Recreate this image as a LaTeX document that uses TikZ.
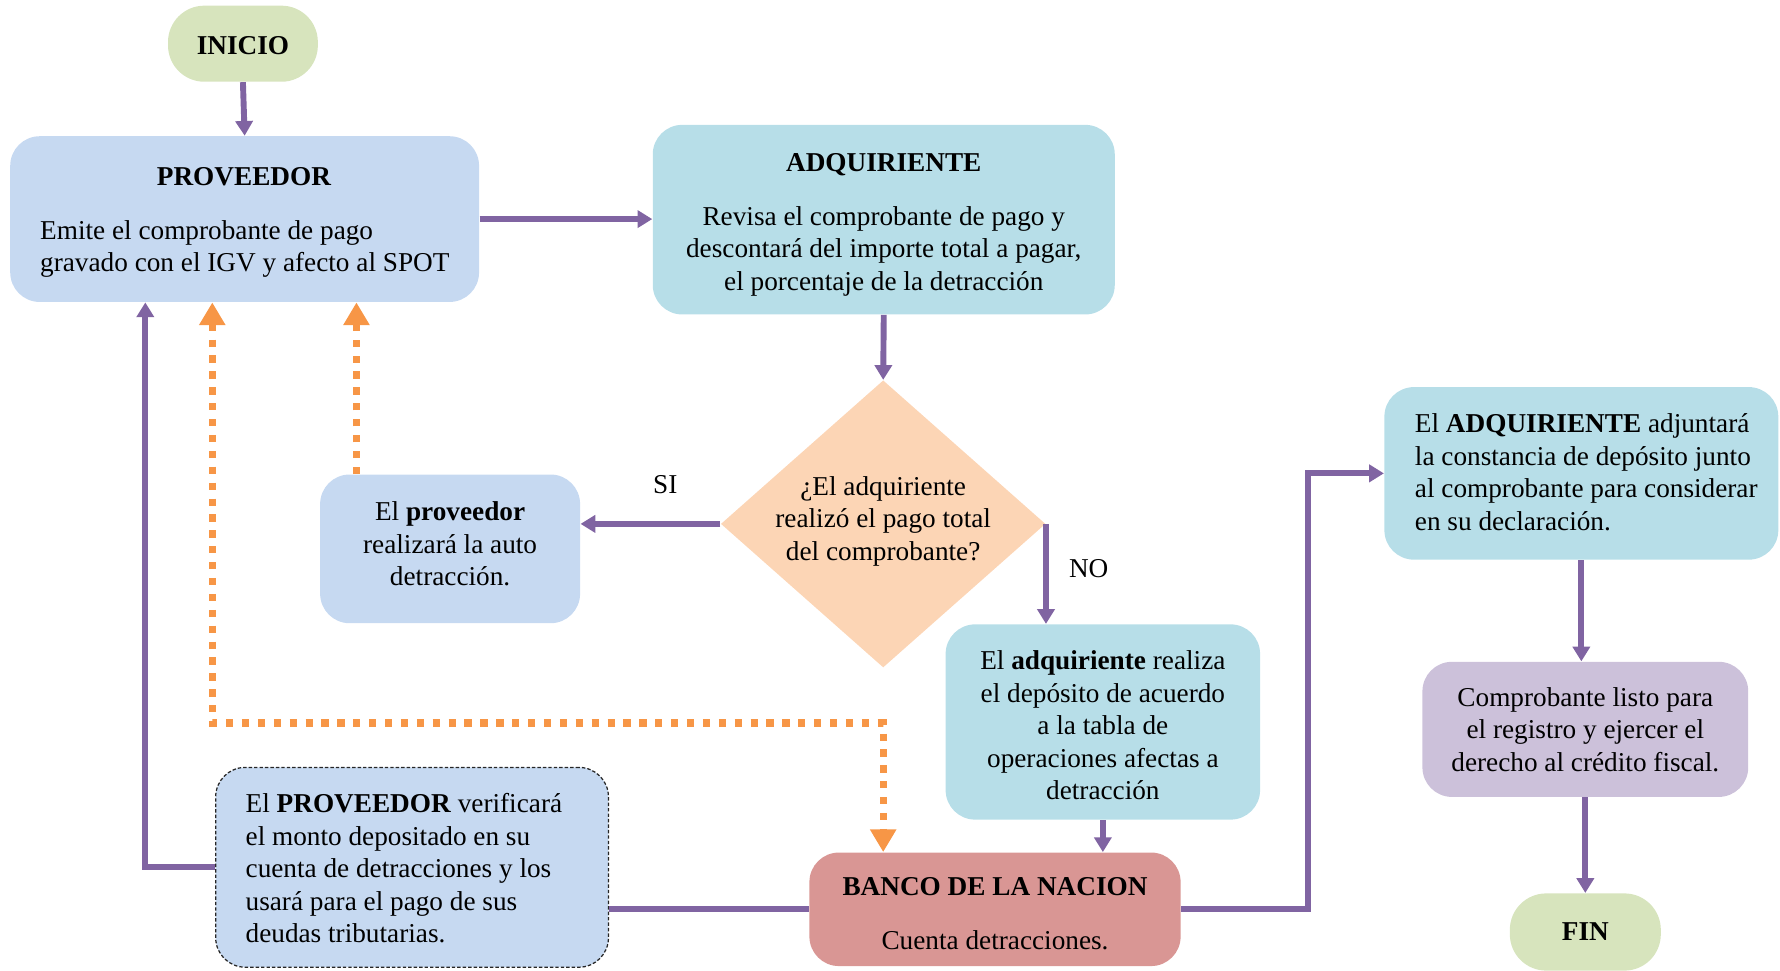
\documentclass[tikz,border=0pt]{standalone}
\usepackage{fontspec}
\setmainfont{Liberation Serif}
\usetikzlibrary{arrows.meta,shapes.geometric}
\definecolor{cgreen}{HTML}{D7E4BD}
\definecolor{cblue}{HTML}{C6D9F1}
\definecolor{caqua}{HTML}{B7DEE8}
\definecolor{cpeach}{HTML}{FCD5B5}
\definecolor{cred}{HTML}{D99694}
\definecolor{clav}{HTML}{CCC1DA}
\definecolor{cpurp}{HTML}{8064A2}
\definecolor{corange}{HTML}{F79646}
\begin{document}
\begin{tikzpicture}[x=0.5pt,y=-0.5pt,
  every node/.style={font=\fontsize{12}{14.3}\selectfont, inner sep=0pt},
  box/.style={rounded corners=13pt},
  term/.style={rounded corners=16pt, fill=cgreen},
  parr/.style={draw=cpurp, line width=2.6pt, -{Triangle[width=7.5pt,length=6.5pt]}},
  pline/.style={draw=cpurp, line width=2.6pt},
  oarr/.style={draw=corange, line width=3.2pt, dash pattern=on 3.2pt off 3.8pt, -{Triangle[width=11pt,length=10pt]}},
]
\useasboundingbox (0,0) rectangle (1568,854.5);

% nodes
\node[term, minimum width=66pt, minimum height=33.5pt] (inicio) at (214,38.5) {};
\node (iniciotxt) at (214,40) {\textbf{INICIO}};

\node[box, fill=cblue, minimum width=206.5pt, minimum height=73pt] (prov) at (215.5,193) {};
\node (provtit) at (215,156) {\textbf{PROVEEDOR}};
\node[anchor=west, align=left] (provtxt) at (35,219.5) {Emite el comprobante de pago\\gravado con el IGV y afecto al SPOT};

\node[box, fill=caqua, minimum width=203.5pt, minimum height=83.5pt] (adq) at (778.5,193.5) {};
\node[align=center] (adqtxt) at (778.5,198)
  {\textbf{ADQUIRIENTE}\\[9.5pt]Revisa el comprobante de pago y\\descontará del importe total a pagar,\\el porcentaje de la detracción};

\node[diamond, fill=cpeach, minimum width=143pt, minimum height=126.5pt] (dec) at (778,461.5) {};
\node[align=center] (dectxt) at (778,459) {¿El adquiriente\\realizó el pago total\\del comprobante?};

\node[box, fill=cblue, minimum width=114.5pt, minimum height=65.5pt] (provauto) at (396.5,483.5) {};
\node[align=center] (provautotxt) at (396.5,479) {El \textbf{proveedor}\\realizará la auto\\detracción.};

\node[box, fill=caqua, minimum width=138.5pt, minimum height=86pt] (adqdep) at (971.5,636) {};
\node[align=center] (adqdeptxt) at (971.5,639)
  {El \textbf{adquiriente} realiza\\el depósito de acuerdo\\a la tabla de\\operaciones afectas a\\detracción};

\node[box, fill=cred, minimum width=163.5pt, minimum height=50pt] (banco) at (876.5,801) {};
\node[align=center] (bancotxt) at (876.5,804.5)
  {\textbf{BANCO DE LA NACION}\\[9.5pt]Cuenta detracciones.};

\node[box, fill=cblue, draw=black!85, line width=0.55pt, dash pattern=on 1.5pt off 0.9pt, minimum width=173pt, minimum height=88pt] (verif) at (363,764) {};
\node[anchor=west, align=left] (veriftxt) at (216,765)
  {El \textbf{PROVEEDOR} verificará\\el monto depositado en su\\cuenta de detracciones y los\\usará para el pago de sus\\deudas tributarias.};

\node[box, fill=caqua, minimum width=173.5pt, minimum height=76pt] (adqdecl) at (1393,417) {};
\node[anchor=west, align=left] (adqdecltxt) at (1246,416)
  {El \textbf{ADQUIRIENTE} adjuntará\\la constancia de depósito junto\\al comprobante para considerar\\en su declaración.};

\node[box, fill=clav, minimum width=143.5pt, minimum height=59.5pt, align=center] (compr) at (1396.5,642.5)
  {Comprobante listo para\\el registro y ejercer el\\derecho al crédito fiscal.};

\node[term, minimum width=66.5pt, minimum height=34pt] (fin) at (1396.5,821) {\textbf{FIN}};

\node (si) at (586,427) {SI};
\node (no) at (959,501) {NO};

% purple connectors
\draw[parr] (inicio.south) -- (prov.north);
\draw[parr] (prov.east) -- (prov.east -| adq.west);
\draw[parr] (adq.south) -- (dec.north);
\draw[parr] (dec.west) -- (dec.west -| provauto.east);
\draw[parr] (dec.east) -- (dec.east |- adqdep.north);
\draw[parr] (adqdep.south) -- (adqdep.south |- banco.north);
\draw[parr] (banco.east) -- ++(112,0) |- (adqdecl.west);
\draw[parr] (adqdecl.south) -- (adqdecl.south |- compr.north);
\draw[parr] (compr.south) -- (compr.south |- fin.north);
\draw[pline] (banco.west) -- (banco.west -| verif.east);
\draw[parr] (verif.west) -| ([xshift=-43.75pt]prov.south);

% orange dashed connectors
\coordinate (ob1) at (187,637);
\coordinate (ob2) at (778,637);
\coordinate (ob3) at (314,418);
\draw[oarr, {Triangle[width=11pt,length=10pt]}-{Triangle[width=11pt,length=10pt]}] (ob1 |- prov.south) -- (ob1) -- (ob2) -- (ob2 |- banco.north);
\draw[oarr] (ob3 |- provauto.north) -- (ob3 |- prov.south);
\end{tikzpicture}
\end{document}
